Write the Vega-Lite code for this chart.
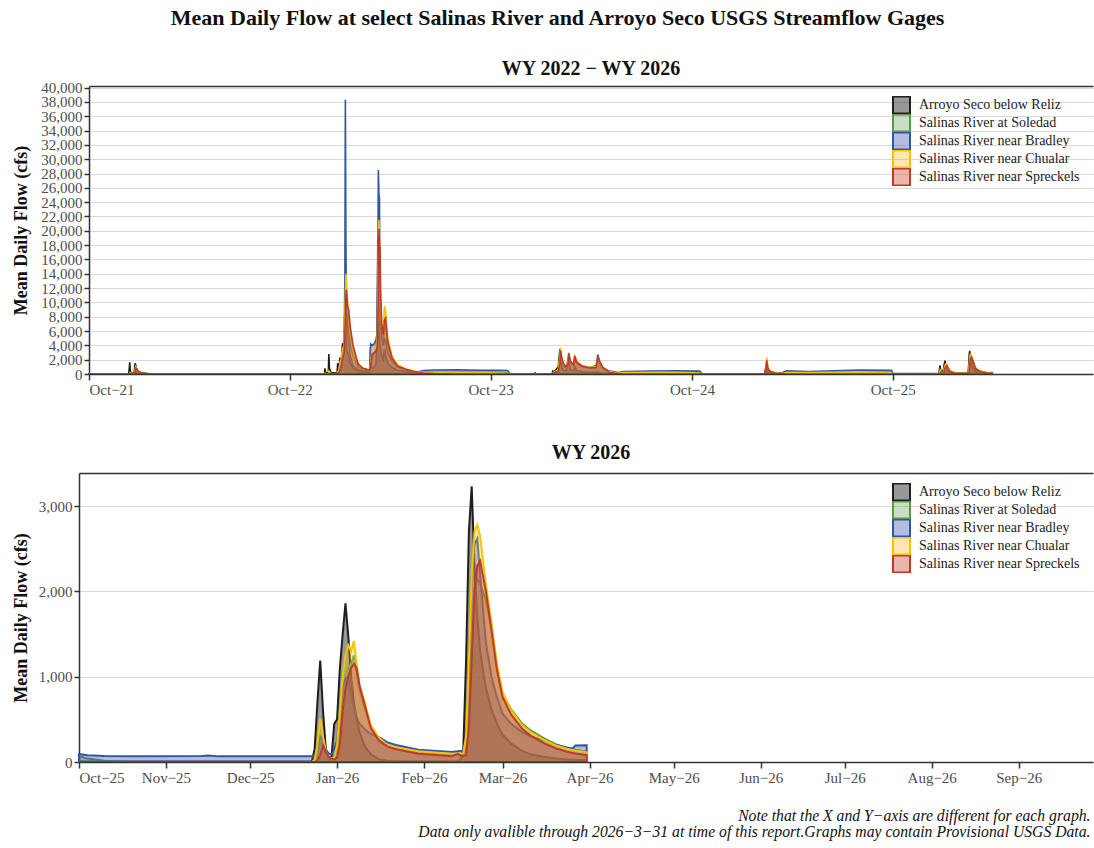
{
  "$schema": "https://vega.github.io/schema/vega-lite/v6.json",
  "padding": {"left": 12, "top": 6, "right": 1, "bottom": 2},
  "background": "white",
  "title": {"text": "Mean Daily Flow at select Salinas River and Arroyo Seco USGS Streamflow Gages", "font": "Liberation Serif", "fontSize": 22, "fontWeight": "bold", "color": "#111111", "anchor": "middle", "offset": 29},
  "config": {
    "font": "Liberation Serif",
    "view": {"stroke": null},
    "axis": {"labelFont": "Liberation Serif", "labelFontSize": 15, "labelColor": "#4d4d4d", "titleFont": "Liberation Serif", "titleFontSize": 18, "titleFontWeight": "bold", "titleColor": "#111111", "domainColor": "#333333", "domainWidth": 1.5, "tickColor": "#333333", "tickWidth": 1.5, "tickSize": 6, "labelPadding": 2, "gridColor": "#d9d9d9", "gridWidth": 1},
    "legend": {"title": null, "orient": "none", "legendX": 803, "legendY": 10, "padding": 0, "symbolType": "square", "symbolSize": 289, "symbolStrokeWidth": 2, "labelFont": "Liberation Serif", "labelFontSize": 14, "labelColor": "#222222", "labelOffset": 8, "labelLimit": 400, "rowPadding": 0, "clipHeight": 18},
    "title": {"font": "Liberation Serif", "fontWeight": "bold", "color": "#111111"}
  },
  "datasets": {
    "sites": [
      {"code": "A", "site": "Arroyo Seco below Reliz"},
      {"code": "S", "site": "Salinas River at Soledad"},
      {"code": "B", "site": "Salinas River near Bradley"},
      {"code": "C", "site": "Salinas River near Chualar"},
      {"code": "R", "site": "Salinas River near Spreckels"}
    ],
    "flow": [
      {"d": "2021-10-01", "A": 5, "S": 0, "B": 0, "C": 0, "R": 0},
      {"d": "2021-12-12", "A": 10, "S": 0, "B": 0, "C": 0, "R": 0},
      {"d": "2021-12-13", "A": 600, "S": 20, "B": 20, "C": 0, "R": 0},
      {"d": "2021-12-14", "A": 1650, "S": 100, "B": 80, "C": 60, "R": 20},
      {"d": "2021-12-15", "A": 400, "S": 150, "B": 60, "C": 200, "R": 120},
      {"d": "2021-12-17", "A": 150, "S": 60, "B": 40, "C": 80, "R": 60},
      {"d": "2021-12-22", "A": 100, "S": 20, "B": 30, "C": 20, "R": 10},
      {"d": "2021-12-23", "A": 900, "S": 50, "B": 60, "C": 80, "R": 20},
      {"d": "2021-12-24", "A": 1500, "S": 400, "B": 200, "C": 600, "R": 300},
      {"d": "2021-12-25", "A": 1200, "S": 700, "B": 300, "C": 1000, "R": 800},
      {"d": "2021-12-27", "A": 600, "S": 500, "B": 250, "C": 700, "R": 700},
      {"d": "2021-12-30", "A": 300, "S": 250, "B": 180, "C": 350, "R": 350},
      {"d": "2022-01-05", "A": 150, "S": 100, "B": 120, "C": 150, "R": 150},
      {"d": "2022-01-15", "A": 60, "S": 20, "B": 60, "C": 30, "R": 30},
      {"d": "2022-01-25", "A": 30, "S": 0, "B": 0, "C": 0, "R": 0},
      {"d": "2022-09-30", "A": 5, "S": 0, "B": 0, "C": 0, "R": 0},
      {"d": "2022-12-03", "A": 10, "S": 0, "B": 0, "C": 0, "R": 0},
      {"d": "2022-12-04", "A": 800, "S": 0, "B": 0, "C": 100, "R": 0},
      {"d": "2022-12-05", "A": 150, "S": 0, "B": 0, "C": 20, "R": 0},
      {"d": "2022-12-10", "A": 200, "S": 0, "B": 0, "C": 0, "R": 0},
      {"d": "2022-12-11", "A": 2800, "S": 100, "B": 0, "C": 400, "R": 50},
      {"d": "2022-12-12", "A": 800, "S": 150, "B": 0, "C": 300, "R": 100},
      {"d": "2022-12-15", "A": 200, "S": 50, "B": 0, "C": 50, "R": 50},
      {"d": "2022-12-26", "A": 150, "S": 0, "B": 0, "C": 0, "R": 0},
      {"d": "2022-12-27", "A": 1500, "S": 200, "B": 100, "C": 300, "R": 100},
      {"d": "2022-12-30", "A": 1000, "S": 400, "B": 300, "C": 500, "R": 300},
      {"d": "2022-12-31", "A": 2300, "S": 900, "B": 1000, "C": 1500, "R": 500},
      {"d": "2023-01-02", "A": 1500, "S": 1500, "B": 1500, "C": 2000, "R": 1000},
      {"d": "2023-01-05", "A": 4300, "S": 2500, "B": 2500, "C": 3500, "R": 2200},
      {"d": "2023-01-08", "A": 3000, "S": 3500, "B": 4000, "C": 4000, "R": 3000},
      {"d": "2023-01-09", "A": 12800, "S": 7000, "B": 9000, "C": 8000, "R": 5000},
      {"d": "2023-01-10", "A": 9000, "S": 9000, "B": 38300, "C": 11000, "R": 8000},
      {"d": "2023-01-11", "A": 5000, "S": 11000, "B": 18500, "C": 14000, "R": 11000},
      {"d": "2023-01-12", "A": 3500, "S": 9500, "B": 8000, "C": 12500, "R": 11800},
      {"d": "2023-01-14", "A": 3000, "S": 8000, "B": 6000, "C": 10000, "R": 9500},
      {"d": "2023-01-16", "A": 2500, "S": 6000, "B": 4500, "C": 8000, "R": 9000},
      {"d": "2023-01-19", "A": 1500, "S": 4000, "B": 2500, "C": 5500, "R": 6500},
      {"d": "2023-01-24", "A": 800, "S": 2500, "B": 1200, "C": 3500, "R": 4000},
      {"d": "2023-02-02", "A": 400, "S": 1000, "B": 600, "C": 1500, "R": 1400},
      {"d": "2023-02-11", "A": 250, "S": 600, "B": 400, "C": 800, "R": 800},
      {"d": "2023-02-23", "A": 200, "S": 450, "B": 400, "C": 550, "R": 560},
      {"d": "2023-02-24", "A": 800, "S": 600, "B": 3000, "C": 700, "R": 600},
      {"d": "2023-02-25", "A": 1500, "S": 1500, "B": 4200, "C": 1800, "R": 1200},
      {"d": "2023-02-28", "A": 800, "S": 2500, "B": 4000, "C": 3000, "R": 2800},
      {"d": "2023-03-04", "A": 1000, "S": 3000, "B": 4300, "C": 3500, "R": 3000},
      {"d": "2023-03-07", "A": 1500, "S": 3500, "B": 4800, "C": 3800, "R": 3200},
      {"d": "2023-03-09", "A": 8500, "S": 4500, "B": 6000, "C": 5000, "R": 4000},
      {"d": "2023-03-10", "A": 19000, "S": 8000, "B": 15000, "C": 9000, "R": 6000},
      {"d": "2023-03-11", "A": 9000, "S": 13000, "B": 28500, "C": 16000, "R": 12000},
      {"d": "2023-03-12", "A": 6000, "S": 17000, "B": 25000, "C": 21500, "R": 20300},
      {"d": "2023-03-13", "A": 4500, "S": 15000, "B": 24500, "C": 19000, "R": 18000},
      {"d": "2023-03-14", "A": 4000, "S": 12000, "B": 12000, "C": 15000, "R": 17700},
      {"d": "2023-03-15", "A": 3500, "S": 8000, "B": 8000, "C": 10000, "R": 11800},
      {"d": "2023-03-17", "A": 2500, "S": 5500, "B": 5000, "C": 7000, "R": 7000},
      {"d": "2023-03-20", "A": 2000, "S": 4500, "B": 4000, "C": 6000, "R": 5500},
      {"d": "2023-03-22", "A": 3500, "S": 7000, "B": 5000, "C": 9500, "R": 7500},
      {"d": "2023-03-24", "A": 2500, "S": 6500, "B": 4500, "C": 9000, "R": 7800},
      {"d": "2023-03-28", "A": 1500, "S": 4000, "B": 3000, "C": 5000, "R": 4500},
      {"d": "2023-04-05", "A": 900, "S": 2000, "B": 1800, "C": 2500, "R": 2200},
      {"d": "2023-04-15", "A": 500, "S": 1100, "B": 1000, "C": 1300, "R": 1100},
      {"d": "2023-04-30", "A": 300, "S": 600, "B": 600, "C": 700, "R": 650},
      {"d": "2023-05-15", "A": 200, "S": 350, "B": 200, "C": 400, "R": 350},
      {"d": "2023-06-01", "A": 120, "S": 250, "B": 480, "C": 250, "R": 150},
      {"d": "2023-06-20", "A": 80, "S": 250, "B": 550, "C": 250, "R": 50},
      {"d": "2023-08-01", "A": 40, "S": 280, "B": 580, "C": 250, "R": 0},
      {"d": "2023-09-15", "A": 20, "S": 250, "B": 520, "C": 200, "R": 0},
      {"d": "2023-10-15", "A": 15, "S": 200, "B": 500, "C": 150, "R": 0},
      {"d": "2023-11-01", "A": 15, "S": 150, "B": 480, "C": 100, "R": 0},
      {"d": "2023-11-05", "A": 15, "S": 50, "B": 50, "C": 50, "R": 0},
      {"d": "2023-11-20", "A": 10, "S": 10, "B": 20, "C": 10, "R": 0},
      {"d": "2023-12-20", "A": 10, "S": 0, "B": 0, "C": 0, "R": 0},
      {"d": "2023-12-21", "A": 150, "S": 0, "B": 60, "C": 0, "R": 0},
      {"d": "2023-12-23", "A": 20, "S": 0, "B": 0, "C": 0, "R": 0},
      {"d": "2024-01-21", "A": 30, "S": 0, "B": 0, "C": 0, "R": 0},
      {"d": "2024-01-22", "A": 400, "S": 100, "B": 100, "C": 100, "R": 50},
      {"d": "2024-01-25", "A": 300, "S": 250, "B": 200, "C": 300, "R": 200},
      {"d": "2024-02-01", "A": 1000, "S": 500, "B": 300, "C": 600, "R": 400},
      {"d": "2024-02-04", "A": 3500, "S": 2000, "B": 1500, "C": 2500, "R": 1500},
      {"d": "2024-02-05", "A": 2500, "S": 3000, "B": 3000, "C": 3700, "R": 3300},
      {"d": "2024-02-07", "A": 1000, "S": 2000, "B": 2000, "C": 2300, "R": 2400},
      {"d": "2024-02-10", "A": 500, "S": 1200, "B": 1200, "C": 1400, "R": 1500},
      {"d": "2024-02-15", "A": 400, "S": 900, "B": 900, "C": 1000, "R": 1000},
      {"d": "2024-02-19", "A": 1800, "S": 1800, "B": 2000, "C": 2000, "R": 1500},
      {"d": "2024-02-20", "A": 1500, "S": 2600, "B": 2500, "C": 3000, "R": 2900},
      {"d": "2024-02-23", "A": 600, "S": 1500, "B": 1500, "C": 1700, "R": 1800},
      {"d": "2024-02-29", "A": 500, "S": 1200, "B": 1300, "C": 1400, "R": 1300},
      {"d": "2024-03-02", "A": 1000, "S": 2300, "B": 2600, "C": 2700, "R": 2500},
      {"d": "2024-03-05", "A": 500, "S": 1500, "B": 1600, "C": 1800, "R": 1700},
      {"d": "2024-03-15", "A": 300, "S": 1000, "B": 1100, "C": 1200, "R": 1100},
      {"d": "2024-03-30", "A": 250, "S": 800, "B": 900, "C": 950, "R": 850},
      {"d": "2024-04-10", "A": 250, "S": 900, "B": 1200, "C": 1000, "R": 900},
      {"d": "2024-04-13", "A": 300, "S": 1900, "B": 2700, "C": 2200, "R": 2400},
      {"d": "2024-04-16", "A": 200, "S": 1500, "B": 1800, "C": 1800, "R": 1800},
      {"d": "2024-04-22", "A": 150, "S": 800, "B": 900, "C": 900, "R": 900},
      {"d": "2024-05-04", "A": 80, "S": 300, "B": 400, "C": 300, "R": 200},
      {"d": "2024-05-20", "A": 50, "S": 100, "B": 200, "C": 100, "R": 30},
      {"d": "2024-05-30", "A": 40, "S": 200, "B": 350, "C": 200, "R": 0},
      {"d": "2024-07-15", "A": 20, "S": 250, "B": 400, "C": 250, "R": 0},
      {"d": "2024-09-01", "A": 15, "S": 250, "B": 450, "C": 250, "R": 0},
      {"d": "2024-10-15", "A": 10, "S": 200, "B": 400, "C": 150, "R": 0},
      {"d": "2024-10-20", "A": 10, "S": 0, "B": 20, "C": 0, "R": 0},
      {"d": "2025-02-10", "A": 20, "S": 0, "B": 0, "C": 0, "R": 0},
      {"d": "2025-02-12", "A": 800, "S": 150, "B": 100, "C": 200, "R": 100},
      {"d": "2025-02-13", "A": 1500, "S": 1000, "B": 800, "C": 1500, "R": 800},
      {"d": "2025-02-14", "A": 600, "S": 1800, "B": 1200, "C": 2300, "R": 1900},
      {"d": "2025-02-16", "A": 300, "S": 700, "B": 500, "C": 900, "R": 800},
      {"d": "2025-02-20", "A": 150, "S": 300, "B": 300, "C": 400, "R": 350},
      {"d": "2025-03-01", "A": 100, "S": 150, "B": 150, "C": 200, "R": 150},
      {"d": "2025-03-15", "A": 80, "S": 100, "B": 200, "C": 100, "R": 50},
      {"d": "2025-03-22", "A": 60, "S": 250, "B": 450, "C": 200, "R": 0},
      {"d": "2025-05-01", "A": 40, "S": 200, "B": 350, "C": 200, "R": 0},
      {"d": "2025-06-15", "A": 25, "S": 300, "B": 450, "C": 250, "R": 0},
      {"d": "2025-08-01", "A": 15, "S": 300, "B": 550, "C": 300, "R": 0},
      {"d": "2025-09-25", "A": 10, "S": 250, "B": 500, "C": 200, "R": 0},
      {"d": "2025-09-29", "A": 8, "S": 200, "B": 480, "C": 150, "R": 0},
      {"d": "2025-10-01", "A": 5, "S": 70, "B": 95, "C": 0, "R": 0},
      {"d": "2025-10-04", "A": 5, "S": 40, "B": 80, "C": 0, "R": 0},
      {"d": "2025-10-10", "A": 5, "S": 15, "B": 70, "C": 0, "R": 0},
      {"d": "2025-10-20", "A": 5, "S": 0, "B": 68, "C": 0, "R": 0},
      {"d": "2025-11-14", "A": 5, "S": 0, "B": 70, "C": 0, "R": 0},
      {"d": "2025-11-16", "A": 5, "S": 0, "B": 76, "C": 0, "R": 0},
      {"d": "2025-11-20", "A": 5, "S": 0, "B": 66, "C": 0, "R": 0},
      {"d": "2025-12-23", "A": 5, "S": 0, "B": 66, "C": 0, "R": 0},
      {"d": "2025-12-24", "A": 150, "S": 20, "B": 80, "C": 20, "R": 0},
      {"d": "2025-12-25", "A": 700, "S": 100, "B": 150, "C": 200, "R": 20},
      {"d": "2025-12-26", "A": 1190, "S": 250, "B": 300, "C": 510, "R": 80},
      {"d": "2025-12-27", "A": 600, "S": 200, "B": 250, "C": 300, "R": 196},
      {"d": "2025-12-28", "A": 150, "S": 100, "B": 150, "C": 120, "R": 120},
      {"d": "2025-12-29", "A": 30, "S": 50, "B": 100, "C": 60, "R": 60},
      {"d": "2025-12-30", "A": 50, "S": 40, "B": 90, "C": 40, "R": 40},
      {"d": "2025-12-31", "A": 450, "S": 50, "B": 150, "C": 50, "R": 30},
      {"d": "2026-01-01", "A": 500, "S": 150, "B": 250, "C": 200, "R": 50},
      {"d": "2026-01-02", "A": 1100, "S": 500, "B": 600, "C": 600, "R": 200},
      {"d": "2026-01-03", "A": 1500, "S": 800, "B": 850, "C": 1000, "R": 600},
      {"d": "2026-01-04", "A": 1860, "S": 1000, "B": 980, "C": 1250, "R": 850},
      {"d": "2026-01-05", "A": 1480, "S": 1100, "B": 1000, "C": 1370, "R": 1000},
      {"d": "2026-01-06", "A": 1000, "S": 1150, "B": 800, "C": 1300, "R": 1100},
      {"d": "2026-01-07", "A": 700, "S": 1250, "B": 650, "C": 1420, "R": 1154},
      {"d": "2026-01-08", "A": 500, "S": 1050, "B": 520, "C": 1150, "R": 1100},
      {"d": "2026-01-09", "A": 350, "S": 850, "B": 450, "C": 900, "R": 900},
      {"d": "2026-01-11", "A": 180, "S": 620, "B": 380, "C": 685, "R": 650},
      {"d": "2026-01-13", "A": 90, "S": 430, "B": 330, "C": 430, "R": 400},
      {"d": "2026-01-16", "A": 30, "S": 270, "B": 290, "C": 280, "R": 250},
      {"d": "2026-01-19", "A": 15, "S": 190, "B": 230, "C": 200, "R": 180},
      {"d": "2026-01-22", "A": 10, "S": 160, "B": 200, "C": 170, "R": 150},
      {"d": "2026-01-30", "A": 8, "S": 120, "B": 145, "C": 125, "R": 98},
      {"d": "2026-02-11", "A": 5, "S": 90, "B": 118, "C": 98, "R": 67},
      {"d": "2026-02-13", "A": 5, "S": 90, "B": 125, "C": 100, "R": 95},
      {"d": "2026-02-14", "A": 30, "S": 85, "B": 130, "C": 95, "R": 80},
      {"d": "2026-02-15", "A": 150, "S": 85, "B": 130, "C": 100, "R": 70},
      {"d": "2026-02-16", "A": 1200, "S": 200, "B": 300, "C": 300, "R": 80},
      {"d": "2026-02-17", "A": 2700, "S": 900, "B": 1200, "C": 1200, "R": 400},
      {"d": "2026-02-18", "A": 3235, "S": 1600, "B": 2200, "C": 2200, "R": 1200},
      {"d": "2026-02-19", "A": 2300, "S": 2050, "B": 2550, "C": 2700, "R": 2000},
      {"d": "2026-02-20", "A": 1700, "S": 2150, "B": 2620, "C": 2780, "R": 2300},
      {"d": "2026-02-21", "A": 1300, "S": 2100, "B": 2200, "C": 2650, "R": 2360},
      {"d": "2026-02-23", "A": 880, "S": 1900, "B": 1420, "C": 2100, "R": 2020},
      {"d": "2026-02-25", "A": 620, "S": 1580, "B": 1000, "C": 1650, "R": 1560},
      {"d": "2026-02-27", "A": 450, "S": 1120, "B": 760, "C": 1150, "R": 1080},
      {"d": "2026-03-01", "A": 320, "S": 800, "B": 570, "C": 820, "R": 760},
      {"d": "2026-03-04", "A": 216, "S": 620, "B": 450, "C": 610, "R": 560},
      {"d": "2026-03-08", "A": 130, "S": 450, "B": 350, "C": 430, "R": 390},
      {"d": "2026-03-11", "A": 90, "S": 370, "B": 300, "C": 350, "R": 310},
      {"d": "2026-03-16", "A": 59, "S": 275, "B": 250, "C": 255, "R": 215},
      {"d": "2026-03-20", "A": 40, "S": 210, "B": 200, "C": 195, "R": 160},
      {"d": "2026-03-24", "A": 30, "S": 165, "B": 170, "C": 155, "R": 120},
      {"d": "2026-03-26", "A": 27, "S": 150, "B": 158, "C": 140, "R": 105},
      {"d": "2026-03-27", "A": 25, "S": 145, "B": 195, "C": 135, "R": 100},
      {"d": "2026-03-31", "A": 20, "S": 122, "B": 196, "C": 115, "R": 80}
    ]
  },
  "columns": 1,
  "spacing": 46,
  "resolve": {"scale": {"fill": "independent", "stroke": "independent"}, "legend": {"fill": "independent", "stroke": "independent"}},
  "concat": [
    {
      "width": 1004,
      "height": 288,
      "title": {"text": "WY 2022 − WY 2026", "fontSize": 20, "anchor": "middle", "frame": "group", "offset": 2},
      "data": {"name": "flow"},
      "transform": [
        {"fold": ["A", "S", "B", "C", "R"], "as": ["code", "flow"]},
        {"lookup": "code", "from": {"data": {"name": "sites"}, "key": "code", "fields": ["site"]}}
      ],
      "layer": [
        {
          "mark": {"type": "area", "strokeWidth": 1.6, "interpolate": "linear"},
          "encoding": {
            "x": {"field": "d", "type": "temporal",
                  "scale": {"type": "utc", "domain": [{"year": 2021, "month": 10, "date": 1, "utc": true}, {"year": 2026, "month": 9, "date": 30, "utc": true}]},
                  "axis": {"title": null, "grid": false, "zindex": 1, "labelExpr": "utcFormat(datum.value, '%b') + '−' + utcFormat(datum.value, '%y')",
                           "values": [{"year": 2021, "month": 10, "date": 1, "utc": true}, {"year": 2022, "month": 10, "date": 1, "utc": true}, {"year": 2023, "month": 10, "date": 1, "utc": true}, {"year": 2024, "month": 10, "date": 1, "utc": true}, {"year": 2025, "month": 10, "date": 1, "utc": true}]}},
            "y": {"field": "flow", "type": "quantitative", "stack": null,
                  "scale": {"domain": [0, 40220], "nice": false},
                  "axis": {"title": "Mean Daily Flow (cfs)", "format": ",d", "labelOverlap": false, "values": [0, 2000, 4000, 6000, 8000, 10000, 12000, 14000, 16000, 18000, 20000, 22000, 24000, 26000, 28000, 30000, 32000, 34000, 36000, 38000, 40000], "tickSize": 5, "titlePadding": 10}},
            "fill": {"field": "site", "type": "nominal",
                     "scale": {"domain": ["Arroyo Seco below Reliz", "Salinas River at Soledad", "Salinas River near Bradley", "Salinas River near Chualar", "Salinas River near Spreckels"],
                               "range": ["rgba(26,26,26,0.45)", "rgba(100,160,80,0.35)", "rgba(60,80,180,0.38)", "rgba(250,190,40,0.35)", "rgba(200,70,50,0.4)"]}},
            "stroke": {"field": "site", "type": "nominal",
                       "scale": {"domain": ["Arroyo Seco below Reliz", "Salinas River at Soledad", "Salinas River near Bradley", "Salinas River near Chualar", "Salinas River near Spreckels"],
                                 "range": ["#1f1f1f", "#5b9a44", "#2f57a3", "#f5c400", "#c0392b"]}}
          }
        },
        {
          "mark": {"type": "rule", "opacity": 0},
          "encoding": {
            "x": {"field": "d", "type": "temporal",
                  "scale": {"type": "utc", "domain": [{"year": 2021, "month": 10, "date": 1, "utc": true}, {"year": 2026, "month": 9, "date": 30, "utc": true}]},
                  "axis": {"orient": "top", "labels": false, "ticks": false, "grid": false, "title": null, "domain": true}}
          }
        }
      ],
      "resolve": {"axis": {"x": "independent"}}
    },
    {
      "width": 1004,
      "height": 289,
      "title": {"text": "WY 2026", "fontSize": 20, "anchor": "middle", "frame": "group", "offset": 10},
      "data": {"name": "flow"},
      "transform": [
        {"filter": "toDate(datum.d) >= utc(2025, 9, 1)"},
        {"fold": ["A", "S", "B", "C", "R"], "as": ["code", "flow"]},
        {"lookup": "code", "from": {"data": {"name": "sites"}, "key": "code", "fields": ["site"]}}
      ],
      "layer": [
        {
          "mark": {"type": "area", "strokeWidth": 2, "interpolate": "linear"},
          "encoding": {
            "x": {"field": "d", "type": "temporal",
                  "scale": {"type": "utc", "rangeMin": -10, "domain": [{"year": 2025, "month": 10, "date": 1, "utc": true}, {"year": 2026, "month": 9, "date": 27, "hours": 12, "utc": true}]},
                  "axis": {"grid": false, "zindex": 1, "labelExpr": "utcFormat(datum.value, '%b') + '−' + utcFormat(datum.value, '%y')",
                           "values": [{"year": 2025, "month": 10, "date": 1, "utc": true}, {"year": 2025, "month": 11, "date": 1, "utc": true}, {"year": 2025, "month": 12, "date": 1, "utc": true}, {"year": 2026, "month": 1, "date": 1, "utc": true}, {"year": 2026, "month": 2, "date": 1, "utc": true}, {"year": 2026, "month": 3, "date": 1, "utc": true}, {"year": 2026, "month": 4, "date": 1, "utc": true}, {"year": 2026, "month": 5, "date": 1, "utc": true}, {"year": 2026, "month": 6, "date": 1, "utc": true}, {"year": 2026, "month": 7, "date": 1, "utc": true}, {"year": 2026, "month": 8, "date": 1, "utc": true}, {"year": 2026, "month": 9, "date": 1, "utc": true}],
                           "title": ["Note that the X and Y−axis are different for each graph.", "Data only avalible through 2026−3−31 at time of this report.Graphs may contain Provisional USGS Data."],
                           "titleFontStyle": "italic", "titleFontWeight": "normal", "titleFontSize": 15.7, "titleColor": "#111111", "titleAnchor": "end", "titleAlign": "right", "titleX": 1001, "titlePadding": 23, "titleLineHeight": 16}},
            "y": {"field": "flow", "type": "quantitative", "stack": null,
                  "scale": {"domain": [0, 3390], "nice": false},
                  "axis": {"title": "Mean Daily Flow (cfs)", "format": ",d", "values": [0, 1000, 2000, 3000], "tickSize": 5, "titlePadding": 8, "offset": 10}},
            "fill": {"field": "site", "type": "nominal",
                     "scale": {"domain": ["Arroyo Seco below Reliz", "Salinas River at Soledad", "Salinas River near Bradley", "Salinas River near Chualar", "Salinas River near Spreckels"],
                               "range": ["rgba(26,26,26,0.45)", "rgba(100,160,80,0.35)", "rgba(60,80,180,0.38)", "rgba(250,190,40,0.35)", "rgba(200,70,50,0.4)"]}},
            "stroke": {"field": "site", "type": "nominal",
                       "scale": {"domain": ["Arroyo Seco below Reliz", "Salinas River at Soledad", "Salinas River near Bradley", "Salinas River near Chualar", "Salinas River near Spreckels"],
                                 "range": ["#1f1f1f", "#5b9a44", "#2f57a3", "#f5c400", "#c0392b"]}}
          }
        },
        {
          "mark": {"type": "rule", "opacity": 0},
          "encoding": {
            "x": {"field": "d", "type": "temporal",
                  "scale": {"type": "utc", "rangeMin": -10, "domain": [{"year": 2025, "month": 10, "date": 1, "utc": true}, {"year": 2026, "month": 9, "date": 27, "hours": 12, "utc": true}]},
                  "axis": {"orient": "top", "labels": false, "ticks": false, "grid": false, "title": null, "domain": true}}
          }
        }
      ],
      "resolve": {"axis": {"x": "independent"}}
    }
  ]
}
